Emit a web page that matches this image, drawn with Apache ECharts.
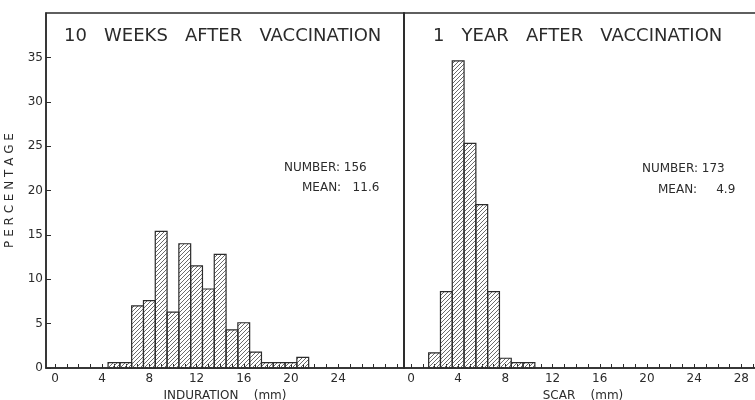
<!DOCTYPE html>
<html>
<head>
<meta charset="utf-8">
<script src="https://cdn.jsdelivr.net/npm/echarts@6/dist/echarts.min.js"></script>
<style>
  html, body { margin: 0; padding: 0; background: #fff; }
</style>
</head>
<body>
<div id="main" style="width: 755px; height: 400px"></div>
<script>
// 10 weeks after vaccination - induration (mm) vs percentage
const indurationMm = [5, 6, 7, 8, 9, 10, 11, 12, 13, 14, 15, 16, 17, 18, 19, 20, 21]
const indurationPct = [0.6, 0.6, 7.0, 7.6, 15.4, 6.3, 14.0, 11.5, 8.9, 12.8, 4.3, 5.1, 1.8, 0.6, 0.6, 0.6, 1.2]

// 1 year after vaccination - scar (mm) vs percentage
const scarMm = [2, 3, 4, 5, 6, 7, 8, 9, 10]
const scarPct = [1.7, 8.6, 34.6, 25.3, 18.4, 8.6, 1.1, 0.6, 0.6]

// axis labels / ticks
const yLabels = [0, 5, 10, 15, 20, 25, 30, 35]
const xTicks = [0, 1, 2, 3, 4, 5, 6, 7, 8, 9, 10, 11, 12, 13, 14, 15, 16, 17, 18, 19, 20, 21, 22, 23, 24, 25, 26, 27, 28, 29]
const xLabelsLeft = [0, 4, 8, 12, 16, 20, 24]
const xLabelsRight = [0, 4, 8, 12, 16, 20, 24, 28]

const ink = '#2b2b2b'
const font = 'DejaVu Sans'

// 斜線填充 (hatch pattern)
const makeHatch = () => {
  const c = document.createElement('canvas')
  c.width = 4
  c.height = 4
  const ctx = c.getContext('2d')
  ctx.strokeStyle = '#5a5a5a'
  ctx.lineWidth = 0.9
  ctx.beginPath()
  ctx.moveTo(0, 4)
  ctx.lineTo(4, 0)
  ctx.moveTo(-1, 1)
  ctx.lineTo(1, -1)
  ctx.moveTo(3, 5)
  ctx.lineTo(5, 3)
  ctx.stroke()
  return c
}
const hatch = { image: makeHatch(), repeat: 'repeat' }

const renderBar = (params, api) => {
  const x = api.value(0)
  const y = api.value(1)
  const p0 = api.coord([x - 0.5, y])
  const p1 = api.coord([x + 0.5, 0])
  return {
    type: 'rect',
    shape: { x: p0[0], y: p0[1], width: p1[0] - p0[0], height: p1[1] - p0[1] },
    style: { fill: hatch, stroke: ink, lineWidth: 1.2 },
  }
}

const xAxisBase = (labels, name) => ({
  type: 'value',
  name: name,
  nameLocation: 'middle',
  nameGap: 18,
  nameTextStyle: { color: ink, fontFamily: font, fontSize: 12 },
  axisLine: { show: true, lineStyle: { color: ink, width: 1.5 } },
  axisTick: { show: true, inside: true, length: 4, customValues: xTicks, lineStyle: { color: ink } },
  axisLabel: { customValues: labels, color: ink, fontFamily: font, fontSize: 12, margin: 5 },
  splitLine: { show: false },
})

const textStyle = (size) => ({ color: ink, fontFamily: font, fontSize: size, fontWeight: 'normal' })

const myChart = echarts.init(document.getElementById('main'))

const option = {
  animation: false,
  backgroundColor: '#fff',
  title: [
    { text: '10   WEEKS   AFTER   VACCINATION', left: 59, top: 22, padding: 5, textStyle: textStyle(18) },
    { text: '1   YEAR   AFTER   VACCINATION', left: 428, top: 22, padding: 5, textStyle: textStyle(18) },
    { text: 'NUMBER: 156', left: 279, top: 157, textStyle: textStyle(12) },
    { text: 'MEAN:   11.6', left: 297, top: 177, textStyle: textStyle(12) },
    { text: 'NUMBER: 173', left: 637, top: 158, textStyle: textStyle(12) },
    { text: 'MEAN:     4.9', left: 653, top: 179, textStyle: textStyle(12) },
  ],
  // outerBoundsMode none: 不讓標籤擠壓網格
  grid: [
    { left: 46, top: 13, width: 358, height: 355, outerBoundsMode: 'none', show: true, borderColor: ink, borderWidth: 1.5, backgroundColor: 'transparent' },
    { left: 404, top: 13, width: 358, height: 355, outerBoundsMode: 'none', show: true, borderColor: ink, borderWidth: 1.5, backgroundColor: 'transparent' },
  ],
  xAxis: [
    Object.assign(xAxisBase(xLabelsLeft, 'INDURATION    (mm)'), { gridIndex: 0, min: -0.76, max: 29.58 }),
    Object.assign(xAxisBase(xLabelsRight, 'SCAR    (mm)'), { gridIndex: 1, min: -0.59, max: 29.75 }),
  ],
  yAxis: [
    {
      type: 'value',
      gridIndex: 0,
      min: 0,
      max: 40,
      name: 'P E R C E N T A G E',
      nameLocation: 'middle',
      nameGap: 30,
      nameTextStyle: { color: ink, fontFamily: font, fontSize: 12 },
      axisLine: { show: true, onZero: false, lineStyle: { color: ink, width: 1.5 } },
      axisTick: { show: true, inside: true, length: 5, customValues: yLabels, lineStyle: { color: ink } },
      axisLabel: { customValues: yLabels, color: ink, fontFamily: font, fontSize: 12, margin: 3 },
      splitLine: { show: false },
    },
    {
      type: 'value',
      gridIndex: 1,
      min: 0,
      max: 40,
      axisLine: { show: true, onZero: false, lineStyle: { color: ink, width: 1.5 } },
      axisTick: { show: false },
      axisLabel: { show: false },
      splitLine: { show: false },
    },
  ],
  series: [
    {
      type: 'custom',
      xAxisIndex: 0,
      yAxisIndex: 0,
      renderItem: renderBar,
      data: indurationMm.map((x, i) => [x, indurationPct[i]]),
    },
    {
      type: 'custom',
      xAxisIndex: 1,
      yAxisIndex: 1,
      renderItem: renderBar,
      data: scarMm.map((x, i) => [x, scarPct[i]]),
    },
  ],
}

myChart.setOption(option)
</script>
</body>
</html>
